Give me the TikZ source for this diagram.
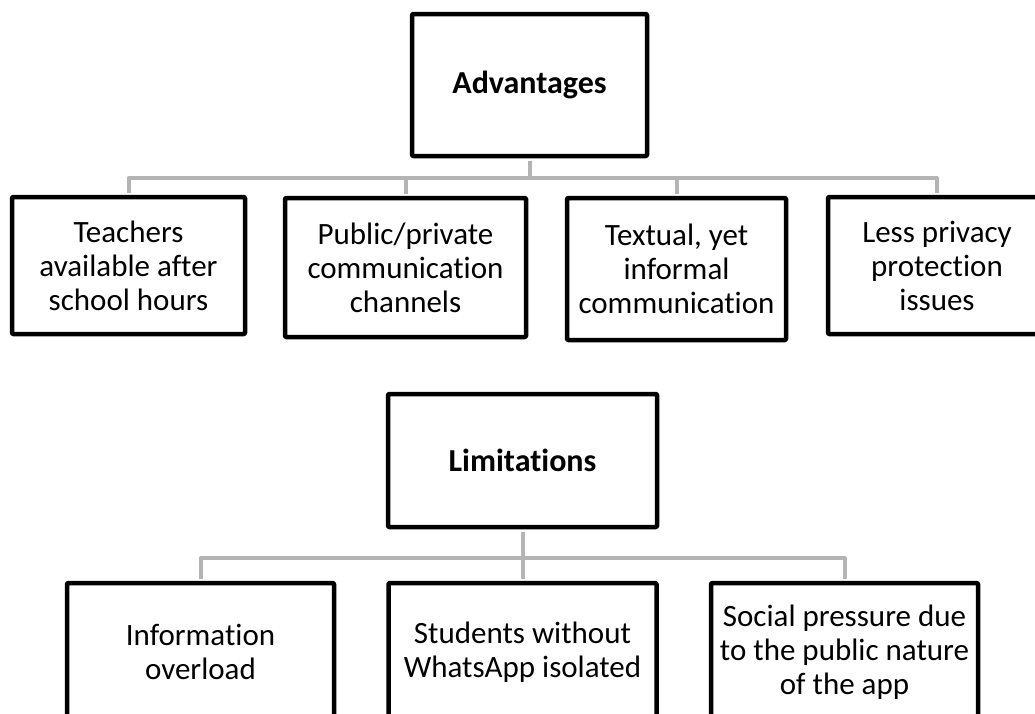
\documentclass[tikz,border=0pt]{standalone}
\usepackage{fontspec}
\setmainfont{Carlito}[Ligatures=NoCommon]
\usepackage{tikz}
\definecolor{bargray}{RGB}{180,180,180}

\begin{document}
\begin{tikzpicture}[x=1pt, y=-1pt, line join=round]
	\tikzstyle{box}=[draw=black, line width=4.5pt, rounded corners=1pt, fill=white, align=center, inner sep=0pt, font=\fontsize{31}{34}\selectfont]
	\tikzstyle{head}=[box, font=\fontsize{32}{36}\selectfont\bfseries]
	\tikzstyle{bar}=[draw=bargray, line width=4pt, shorten <=2.25pt, shorten >=2.25pt]
	\clip (0,0) rectangle (1035,713);
	% advantages
	\node[head, minimum width=235, minimum height=142] (A0) at (529.5,85) {Advantages};
	\node[box, minimum width=233, minimum height=137] (A1) at (128.5,265.5) {Teachers\\available after\\school hours};
	\node[box, minimum width=241, minimum height=139] (A2) at (405.5,267.5) {Public/private\\communication\\channels};
	\node[box, minimum width=219, minimum height=142] (A3) at (676.5,269) {Textual, yet\\informal\\communication};
	\node[box, minimum width=218, minimum height=137] (A4) at (937,265.5) {Less privacy\\protection\\issues};
	\foreach \n in {A1,A2,A3,A4}
		\draw[bar] (A0.south) -- ++(0,20) -| (\n.north);
	% limitations
	\node[head, minimum width=269, minimum height=133] (L0) at (522.5,460.5) {Limitations};
	\node[box, minimum width=267, minimum height=138] (L1) at (200.5,652) {Information\\overload};
	\node[box, minimum width=268, minimum height=138] (L2) at (522.5,652) {Students without\\WhatsApp isolated};
	\node[box, minimum width=267, minimum height=138] (L3) at (844.5,652) {Social pressure due\\to the public nature\\of the app};
	\foreach \n in {L1,L2,L3}
		\draw[bar] (L0.south) -- ++(0,29) -| (\n.north);
\end{tikzpicture}
\end{document}
